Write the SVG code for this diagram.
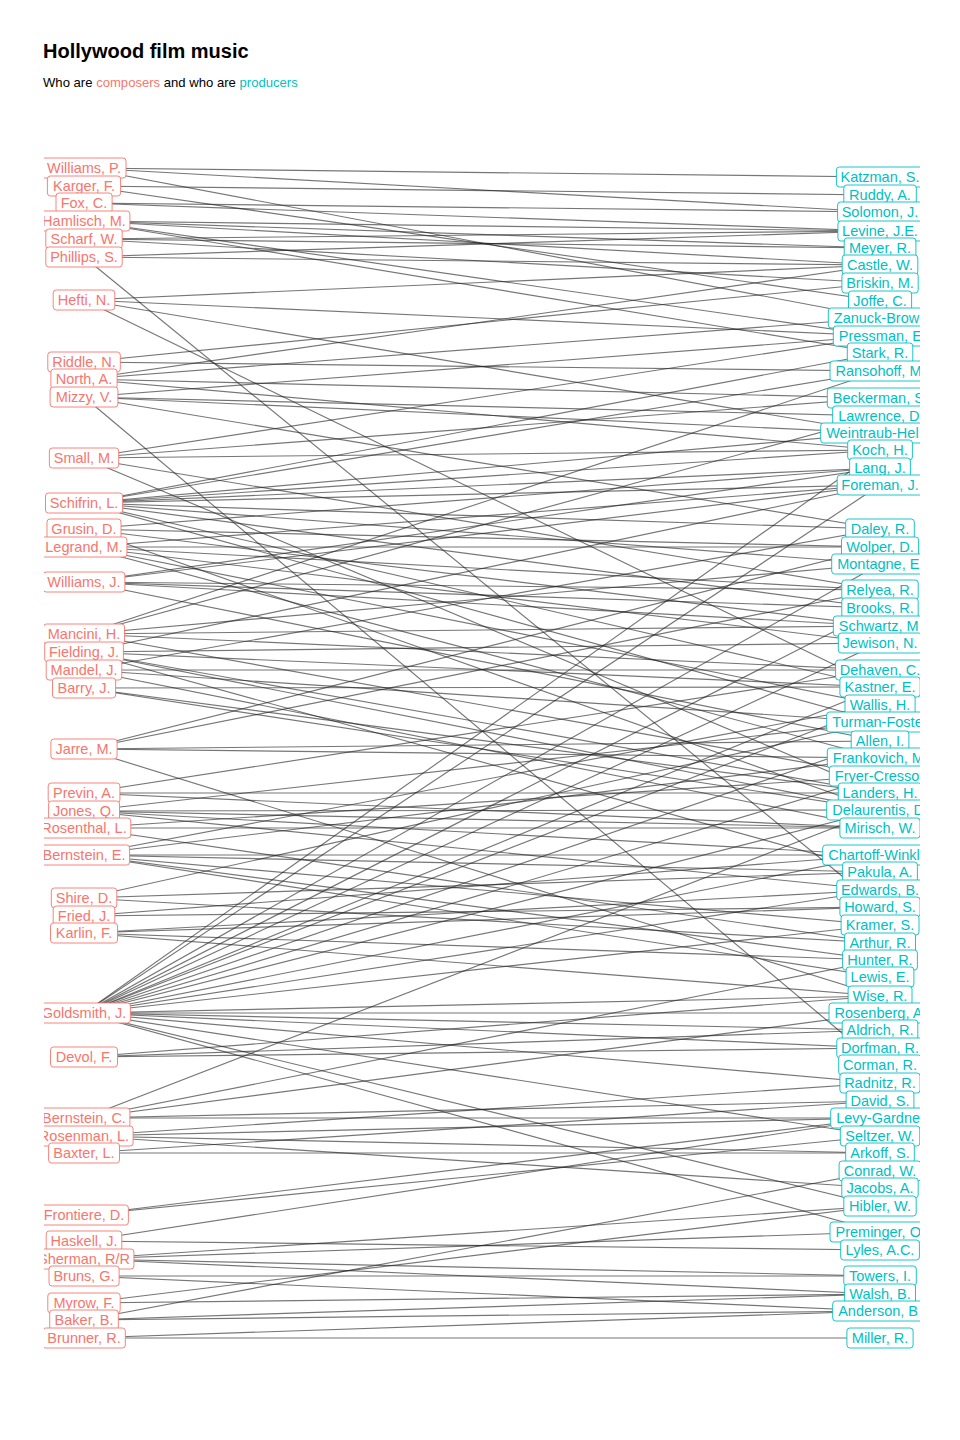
<svg xmlns="http://www.w3.org/2000/svg" width="960" height="1440" viewBox="0 0 960 1440">
<defs>
<clipPath id="panel"><rect x="44" y="100" width="876" height="1280"/></clipPath>
<style>
.e{stroke:#222;stroke-opacity:0.62;stroke-width:1.15;fill:none}
.c rect{fill:#fff;stroke:#F8766D;stroke-width:0.9}
.c text{fill:#F8766D;font-family:"Liberation Sans",Arial,sans-serif;font-size:14.5px;text-anchor:middle}
.p rect{fill:#fff;stroke:#00BFC4;stroke-width:0.9}
.p text{fill:#00BFC4;font-family:"Liberation Sans",Arial,sans-serif;font-size:14.5px;text-anchor:middle}
.p text.s{text-anchor:start}
.t{font-family:"Liberation Sans",Arial,sans-serif}
</style>
</defs>
<rect width="960" height="1440" fill="#fff"/>
<text class="t" x="43" y="58" font-size="20" font-weight="bold" fill="#000">Hollywood film music</text>
<text class="t" x="43" y="87" font-size="13.1" fill="#000">Who are <tspan fill="#F8766D">composers</tspan> and who are <tspan fill="#00BFC4">producers</tspan></text>
<g id="connectors">
<path class="e" d="M84 168L880 177"/><path class="e" d="M84 168L880 212"/><path class="e" d="M84 168L880 318"/>
<path class="e" d="M84 186L880 195"/><path class="e" d="M84 186L880 301"/>
<path class="e" d="M84 203L880 212"/><path class="e" d="M84 203L880 231"/>
<path class="e" d="M84 221L880 231"/><path class="e" d="M84 221L880 248"/><path class="e" d="M84 221L880 265"/><path class="e" d="M84 221L880 336"/><path class="e" d="M84 221L880 353"/>
<path class="e" d="M84 239L880 231"/><path class="e" d="M84 239L880 248"/><path class="e" d="M84 239L880 283"/>
<path class="e" d="M84 257L880 231"/><path class="e" d="M84 257L880 265"/><path class="e" d="M84 257L880 907"/>
<path class="e" d="M84 300L880 265"/><path class="e" d="M84 300L880 336"/><path class="e" d="M84 300L880 433"/><path class="e" d="M84 300L880 687"/>
<path class="e" d="M84 362L880 283"/><path class="e" d="M84 362L880 371"/>
<path class="e" d="M84 379L880 265"/><path class="e" d="M84 379L880 318"/><path class="e" d="M84 379L880 398"/><path class="e" d="M84 379L880 450"/>
<path class="e" d="M84 397L880 336"/><path class="e" d="M84 397L880 416"/><path class="e" d="M84 397L880 433"/><path class="e" d="M84 397L880 529"/><path class="e" d="M84 397L880 1065"/>
<path class="e" d="M84 458L880 336"/><path class="e" d="M84 458L880 398"/><path class="e" d="M84 458L880 450"/><path class="e" d="M84 458L880 590"/><path class="e" d="M84 458L880 793"/>
<path class="e" d="M84 503L880 353"/><path class="e" d="M84 503L880 371"/><path class="e" d="M84 503L880 433"/><path class="e" d="M84 503L880 450"/><path class="e" d="M84 503L880 468"/><path class="e" d="M84 503L880 485"/><path class="e" d="M84 503L880 529"/><path class="e" d="M84 503L880 564"/><path class="e" d="M84 503L880 608"/><path class="e" d="M84 503L880 687"/><path class="e" d="M84 503L880 722"/>
<path class="e" d="M84 529L880 468"/><path class="e" d="M84 529L880 547"/><path class="e" d="M84 529L880 626"/><path class="e" d="M84 529L880 810"/>
<path class="e" d="M84 547L880 485"/><path class="e" d="M84 547L880 547"/><path class="e" d="M84 547L880 590"/><path class="e" d="M84 547L880 643"/><path class="e" d="M84 547L880 705"/><path class="e" d="M84 547L880 758"/>
<path class="e" d="M84 582L880 468"/><path class="e" d="M84 582L880 485"/><path class="e" d="M84 582L880 590"/><path class="e" d="M84 582L880 608"/><path class="e" d="M84 582L880 626"/><path class="e" d="M84 582L880 741"/>
<path class="e" d="M84 634L880 371"/><path class="e" d="M84 634L880 416"/><path class="e" d="M84 634L880 564"/><path class="e" d="M84 634L880 626"/><path class="e" d="M84 634L880 670"/><path class="e" d="M84 634L880 776"/>
<path class="e" d="M84 652L880 485"/><path class="e" d="M84 652L880 643"/><path class="e" d="M84 652L880 687"/><path class="e" d="M84 652L880 793"/><path class="e" d="M84 652L880 810"/><path class="e" d="M84 652L880 872"/>
<path class="e" d="M84 670L880 529"/><path class="e" d="M84 670L880 670"/><path class="e" d="M84 670L880 722"/><path class="e" d="M84 670L880 828"/>
<path class="e" d="M84 688L880 687"/><path class="e" d="M84 688L880 793"/><path class="e" d="M84 688L880 810"/>
<path class="e" d="M84 749L880 547"/><path class="e" d="M84 749L880 590"/><path class="e" d="M84 749L880 741"/><path class="e" d="M84 749L880 758"/><path class="e" d="M84 749L880 996"/>
<path class="e" d="M84 793L880 670"/><path class="e" d="M84 793L880 793"/><path class="e" d="M84 793L880 828"/>
<path class="e" d="M84 811L880 722"/><path class="e" d="M84 811L880 810"/><path class="e" d="M84 811L880 828"/><path class="e" d="M84 811L880 855"/><path class="e" d="M84 811L880 890"/>
<path class="e" d="M84 828L880 776"/><path class="e" d="M84 828L880 828"/><path class="e" d="M84 828L880 943"/>
<path class="e" d="M84 855L880 705"/><path class="e" d="M84 855L880 758"/><path class="e" d="M84 855L880 855"/><path class="e" d="M84 855L880 872"/><path class="e" d="M84 855L880 925"/><path class="e" d="M84 855L880 960"/><path class="e" d="M84 855L880 977"/>
<path class="e" d="M84 898L880 722"/><path class="e" d="M84 898L880 872"/><path class="e" d="M84 898L880 943"/>
<path class="e" d="M84 916L880 855"/><path class="e" d="M84 916L880 907"/>
<path class="e" d="M84 933L880 890"/><path class="e" d="M84 933L880 907"/><path class="e" d="M84 933L880 960"/><path class="e" d="M84 933L880 996"/>
<path class="e" d="M84 1013L880 450"/><path class="e" d="M84 1013L880 485"/><path class="e" d="M84 1013L880 564"/><path class="e" d="M84 1013L880 608"/><path class="e" d="M84 1013L880 643"/><path class="e" d="M84 1013L880 687"/><path class="e" d="M84 1013L880 705"/><path class="e" d="M84 1013L880 741"/><path class="e" d="M84 1013L880 776"/><path class="e" d="M84 1013L880 810"/><path class="e" d="M84 1013L880 855"/><path class="e" d="M84 1013L880 890"/><path class="e" d="M84 1013L880 925"/><path class="e" d="M84 1013L880 996"/><path class="e" d="M84 1013L880 1013"/><path class="e" d="M84 1013L880 1030"/><path class="e" d="M84 1013L880 1048"/><path class="e" d="M84 1013L880 1083"/><path class="e" d="M84 1013L880 1136"/><path class="e" d="M84 1013L880 1206"/><path class="e" d="M84 1013L880 1232"/>
<path class="e" d="M84 1057L880 996"/><path class="e" d="M84 1057L880 1030"/><path class="e" d="M84 1057L880 1048"/>
<path class="e" d="M84 1118L880 810"/><path class="e" d="M84 1118L880 960"/><path class="e" d="M84 1118L880 1013"/><path class="e" d="M84 1118L880 1101"/><path class="e" d="M84 1118L880 1118"/>
<path class="e" d="M84 1136L880 1083"/><path class="e" d="M84 1136L880 1118"/><path class="e" d="M84 1136L880 1153"/><path class="e" d="M84 1136L880 1188"/>
<path class="e" d="M84 1153L880 1101"/><path class="e" d="M84 1153L880 1153"/>
<path class="e" d="M84 1215L880 1118"/><path class="e" d="M84 1215L880 1136"/>
<path class="e" d="M84 1241L880 1118"/><path class="e" d="M84 1241L880 1250"/>
<path class="e" d="M84 1259L880 1206"/><path class="e" d="M84 1259L880 1232"/><path class="e" d="M84 1259L880 1276"/><path class="e" d="M84 1259L880 1294"/>
<path class="e" d="M84 1276L880 1276"/><path class="e" d="M84 1276L880 1311"/>
<path class="e" d="M84 1303L880 1206"/><path class="e" d="M84 1303L880 1294"/>
<path class="e" d="M84 1320L880 1171"/><path class="e" d="M84 1320L880 1294"/><path class="e" d="M84 1320L880 1311"/>
<path class="e" d="M84 1338L880 1311"/><path class="e" d="M84 1338L880 1338"/>
</g>
<g clip-path="url(#panel)">
<g class="c">
<g id="williams-p"><rect x="41.9" y="158" width="84.1" height="20" rx="3"/><text x="84" y="173">Williams, P.</text></g>
<g id="karger-f"><rect x="47.4" y="176" width="73.2" height="20" rx="3"/><text x="84" y="191">Karger, F.</text></g>
<g id="fox-c"><rect x="56" y="193" width="56.1" height="20" rx="3"/><text x="84" y="208">Fox, C.</text></g>
<g id="hamlisch-m"><rect x="38" y="211" width="91.9" height="20" rx="3"/><text x="84" y="226">Hamlisch, M.</text></g>
<g id="scharf-w"><rect x="45.8" y="229" width="76.4" height="20" rx="3"/><text x="84" y="244">Scharf, W.</text></g>
<g id="phillips-s"><rect x="45.8" y="247" width="76.4" height="20" rx="3"/><text x="84" y="262">Phillips, S.</text></g>
<g id="hefti-n"><rect x="53.2" y="290" width="61.6" height="20" rx="3"/><text x="84" y="305">Hefti, N.</text></g>
<g id="riddle-n"><rect x="47.8" y="352" width="72.5" height="20" rx="3"/><text x="84" y="367">Riddle, N.</text></g>
<g id="north-a"><rect x="50.9" y="369" width="66.2" height="20" rx="3"/><text x="84" y="384">North, A.</text></g>
<g id="mizzy-v"><rect x="50.1" y="387" width="67.8" height="20" rx="3"/><text x="84" y="402">Mizzy, V.</text></g>
<g id="small-m"><rect x="49.4" y="448" width="69.3" height="20" rx="3"/><text x="84" y="463">Small, M.</text></g>
<g id="schifrin-l"><rect x="45.5" y="493" width="77.1" height="20" rx="3"/><text x="84" y="508">Schifrin, L.</text></g>
<g id="grusin-d"><rect x="47" y="519" width="74" height="20" rx="3"/><text x="84" y="534">Grusin, D.</text></g>
<g id="legrand-m"><rect x="41.2" y="537" width="85.7" height="20" rx="3"/><text x="84" y="552">Legrand, M.</text></g>
<g id="williams-j"><rect x="43.1" y="572" width="81.8" height="20" rx="3"/><text x="84" y="587">Williams, J.</text></g>
<g id="mancini-h"><rect x="43.5" y="624" width="81" height="20" rx="3"/><text x="84" y="639">Mancini, H.</text></g>
<g id="fielding-j"><rect x="44.7" y="642" width="78.7" height="20" rx="3"/><text x="84" y="657">Fielding, J.</text></g>
<g id="mandel-j"><rect x="46.2" y="660" width="75.6" height="20" rx="3"/><text x="84" y="675">Mandel, J.</text></g>
<g id="barry-j"><rect x="52.5" y="678" width="63.1" height="20" rx="3"/><text x="84" y="693">Barry, J.</text></g>
<g id="jarre-m"><rect x="50.9" y="739" width="66.2" height="20" rx="3"/><text x="84" y="754">Jarre, M.</text></g>
<g id="previn-a"><rect x="48.2" y="783" width="71.7" height="20" rx="3"/><text x="84" y="798">Previn, A.</text></g>
<g id="jones-q"><rect x="48.6" y="801" width="70.9" height="20" rx="3"/><text x="84" y="816">Jones, Q.</text></g>
<g id="rosenthal-l"><rect x="37.3" y="818" width="93.5" height="20" rx="3"/><text x="84" y="833">Rosenthal, L.</text></g>
<g id="bernstein-e"><rect x="38.4" y="845" width="91.2" height="20" rx="3"/><text x="84" y="860">Bernstein, E.</text></g>
<g id="shire-d"><rect x="51.3" y="888" width="65.5" height="20" rx="3"/><text x="84" y="903">Shire, D.</text></g>
<g id="fried-j"><rect x="53.2" y="906" width="61.6" height="20" rx="3"/><text x="84" y="921">Fried, J.</text></g>
<g id="karlin-f"><rect x="50.5" y="923" width="67" height="20" rx="3"/><text x="84" y="938">Karlin, F.</text></g>
<g id="goldsmith-j"><rect x="37.7" y="1003" width="92.7" height="20" rx="3"/><text x="84" y="1018">Goldsmith, J.</text></g>
<g id="devol-f"><rect x="50.5" y="1047" width="67" height="20" rx="3"/><text x="84" y="1062">Devol, F.</text></g>
<g id="bernstein-c"><rect x="38" y="1108" width="91.9" height="20" rx="3"/><text x="84" y="1123">Bernstein, C.</text></g>
<g id="rosenman-l"><rect x="34.9" y="1126" width="98.2" height="20" rx="3"/><text x="84" y="1141">Rosenman, L.</text></g>
<g id="baxter-l"><rect x="48.6" y="1143" width="70.9" height="20" rx="3"/><text x="84" y="1158">Baxter, L.</text></g>
<g id="frontiere-d"><rect x="39.6" y="1205" width="88.8" height="20" rx="3"/><text x="84" y="1220">Frontiere, D.</text></g>
<g id="haskell-j"><rect x="46.2" y="1231" width="75.6" height="20" rx="3"/><text x="84" y="1246">Haskell, J.</text></g>
<g id="sherman-rr"><rect x="34.2" y="1249" width="99.7" height="20" rx="3"/><text x="84" y="1264">Sherman, R/R</text></g>
<g id="bruns-g"><rect x="49" y="1266" width="70.1" height="20" rx="3"/><text x="84" y="1281">Bruns, G.</text></g>
<g id="myrow-f"><rect x="47.8" y="1293" width="72.4" height="20" rx="3"/><text x="84" y="1308">Myrow, F.</text></g>
<g id="baker-b"><rect x="49.7" y="1310" width="68.6" height="20" rx="3"/><text x="84" y="1325">Baker, B.</text></g>
<g id="brunner-r"><rect x="42.7" y="1328" width="82.6" height="20" rx="3"/><text x="84" y="1343">Brunner, R.</text></g>
</g>
<g class="p">
<g id="katzman-s"><rect x="836.4" y="167" width="87.3" height="20" rx="3"/><text x="880" y="182">Katzman, S.</text></g>
<g id="ruddy-a"><rect x="843.8" y="185" width="72.5" height="20" rx="3"/><text x="880" y="200">Ruddy, A.</text></g>
<g id="solomon-j"><rect x="837.6" y="202" width="84.9" height="20" rx="3"/><text x="880" y="217">Solomon, J.</text></g>
<g id="levine-je"><rect x="837.9" y="221" width="84.2" height="20" rx="3"/><text x="880" y="236">Levine, J.E.</text></g>
<g id="meyer-r"><rect x="844.2" y="238" width="71.7" height="20" rx="3"/><text x="880" y="253">Meyer, R.</text></g>
<g id="castle-w"><rect x="842.2" y="255" width="75.6" height="20" rx="3"/><text x="880" y="270">Castle, W.</text></g>
<g id="briskin-m"><rect x="841.9" y="273" width="76.3" height="20" rx="3"/><text x="880" y="288">Briskin, M.</text></g>
<g id="joffe-c"><rect x="848.5" y="291" width="63.1" height="20" rx="3"/><text x="880" y="306">Joffe, C.</text></g>
<g id="zanuck-brown"><rect x="828.3" y="308" width="110" height="20" rx="3"/><text class="s" x="833.8" y="323">Zanuck-Brow</text></g>
<g id="pressman-e"><rect x="833.3" y="326" width="110" height="20" rx="3"/><text class="s" x="838.8" y="341">Pressman, E</text></g>
<g id="stark-r"><rect x="847.3" y="343" width="65.5" height="20" rx="3"/><text x="880" y="358">Stark, R.</text></g>
<g id="ransohoff-m"><rect x="830" y="361" width="110" height="20" rx="3"/><text class="s" x="835.5" y="376">Ransohoff, M</text></g>
<g id="beckerman-s"><rect x="827.3" y="388" width="110" height="20" rx="3"/><text class="s" x="832.8" y="403">Beckerman, S</text></g>
<g id="lawrence-d"><rect x="832.7" y="406" width="110" height="20" rx="3"/><text class="s" x="838.2" y="421">Lawrence, D</text></g>
<g id="weintraub-heller"><rect x="820.7" y="423" width="110" height="20" rx="3"/><text class="s" x="826.2" y="438">Weintraub-Hel</text></g>
<g id="koch-h"><rect x="847.7" y="440" width="64.7" height="20" rx="3"/><text x="880" y="455">Koch, H.</text></g>
<g id="lang-j"><rect x="849.6" y="458" width="60.8" height="20" rx="3"/><text x="880" y="473">Lang, J.</text></g>
<g id="foreman-j"><rect x="837.2" y="475" width="85.7" height="20" rx="3"/><text x="880" y="490">Foreman, J.</text></g>
<g id="daley-r"><rect x="845.7" y="519" width="68.6" height="20" rx="3"/><text x="880" y="534">Daley, R.</text></g>
<g id="wolper-d"><rect x="841.5" y="537" width="77.1" height="20" rx="3"/><text x="880" y="552">Wolper, D.</text></g>
<g id="montagne-e"><rect x="831.7" y="554" width="110" height="20" rx="3"/><text class="s" x="837.2" y="569">Montagne, E</text></g>
<g id="relyea-r"><rect x="841.8" y="580" width="76.4" height="20" rx="3"/><text x="880" y="595">Relyea, R.</text></g>
<g id="brooks-r"><rect x="841.8" y="598" width="76.4" height="20" rx="3"/><text x="880" y="613">Brooks, R.</text></g>
<g id="schwartz-m"><rect x="833.3" y="616" width="110" height="20" rx="3"/><text class="s" x="838.8" y="631">Schwartz, M</text></g>
<g id="jewison-n"><rect x="838.3" y="633" width="83.4" height="20" rx="3"/><text x="880" y="648">Jewison, N.</text></g>
<g id="dehaven-c"><rect x="835.6" y="660" width="88.8" height="20" rx="3"/><text x="880" y="675">Dehaven, C.</text></g>
<g id="kastner-e"><rect x="839.9" y="677" width="80.3" height="20" rx="3"/><text x="880" y="692">Kastner, E.</text></g>
<g id="wallis-h"><rect x="845" y="695" width="70.1" height="20" rx="3"/><text x="880" y="710">Wallis, H.</text></g>
<g id="turman-foster"><rect x="826.7" y="712" width="110" height="20" rx="3"/><text class="s" x="832.2" y="727">Turman-Foste</text></g>
<g id="allen-i"><rect x="851.2" y="731" width="57.7" height="20" rx="3"/><text x="880" y="746">Allen, I.</text></g>
<g id="frankovich-m"><rect x="827.3" y="748" width="110" height="20" rx="3"/><text class="s" x="832.8" y="763">Frankovich, M</text></g>
<g id="fryer-cresson"><rect x="829.3" y="766" width="110" height="20" rx="3"/><text class="s" x="834.8" y="781">Fryer-Cresso</text></g>
<g id="landers-h"><rect x="838.3" y="783" width="83.4" height="20" rx="3"/><text x="880" y="798">Landers, H.</text></g>
<g id="delaurentis-d"><rect x="826.7" y="800" width="110" height="20" rx="3"/><text class="s" x="832.2" y="815">Delaurentis, D</text></g>
<g id="mirisch-w"><rect x="839.9" y="818" width="80.2" height="20" rx="3"/><text x="880" y="833">Mirisch, W.</text></g>
<g id="chartoff-winkler"><rect x="822.7" y="845" width="110" height="20" rx="3"/><text class="s" x="828.2" y="860">Chartoff-Winkl</text></g>
<g id="pakula-a"><rect x="842.6" y="862" width="74.8" height="20" rx="3"/><text x="880" y="877">Pakula, A.</text></g>
<g id="edwards-b"><rect x="836.8" y="880" width="86.5" height="20" rx="3"/><text x="880" y="895">Edwards, B.</text></g>
<g id="howard-s"><rect x="839.9" y="897" width="80.2" height="20" rx="3"/><text x="880" y="912">Howard, S.</text></g>
<g id="kramer-s"><rect x="841.1" y="915" width="77.9" height="20" rx="3"/><text x="880" y="930">Kramer, S.</text></g>
<g id="arthur-r"><rect x="844.6" y="933" width="70.9" height="20" rx="3"/><text x="880" y="948">Arthur, R.</text></g>
<g id="hunter-r"><rect x="842.6" y="950" width="74.8" height="20" rx="3"/><text x="880" y="965">Hunter, R.</text></g>
<g id="lewis-e"><rect x="846.1" y="967" width="67.8" height="20" rx="3"/><text x="880" y="982">Lewis, E.</text></g>
<g id="wise-r"><rect x="848.1" y="986" width="63.9" height="20" rx="3"/><text x="880" y="1001">Wise, R.</text></g>
<g id="rosenberg-a"><rect x="829" y="1003" width="110" height="20" rx="3"/><text class="s" x="834.5" y="1018">Rosenberg, A</text></g>
<g id="aldrich-r"><rect x="842.2" y="1020" width="75.6" height="20" rx="3"/><text x="880" y="1035">Aldrich, R.</text></g>
<g id="dorfman-r"><rect x="836.8" y="1038" width="86.5" height="20" rx="3"/><text x="880" y="1053">Dorfman, R.</text></g>
<g id="corman-r"><rect x="838.7" y="1055" width="82.6" height="20" rx="3"/><text x="880" y="1070">Corman, R.</text></g>
<g id="radnitz-r"><rect x="839.9" y="1073" width="80.2" height="20" rx="3"/><text x="880" y="1088">Radnitz, R.</text></g>
<g id="david-s"><rect x="846.1" y="1091" width="67.8" height="20" rx="3"/><text x="880" y="1106">David, S.</text></g>
<g id="levy-gardner"><rect x="830.7" y="1108" width="110" height="20" rx="3"/><text class="s" x="836.2" y="1123">Levy-Gardne</text></g>
<g id="seltzer-w"><rect x="840.3" y="1126" width="79.5" height="20" rx="3"/><text x="880" y="1141">Seltzer, W.</text></g>
<g id="arkoff-s"><rect x="845.7" y="1143" width="68.6" height="20" rx="3"/><text x="880" y="1158">Arkoff, S.</text></g>
<g id="conrad-w"><rect x="839.1" y="1161" width="81.8" height="20" rx="3"/><text x="880" y="1176">Conrad, W.</text></g>
<g id="jacobs-a"><rect x="841.8" y="1178" width="76.4" height="20" rx="3"/><text x="880" y="1193">Jacobs, A.</text></g>
<g id="hibler-w"><rect x="843.8" y="1196" width="72.4" height="20" rx="3"/><text x="880" y="1211">Hibler, W.</text></g>
<g id="preminger-o"><rect x="830" y="1222" width="110" height="20" rx="3"/><text class="s" x="835.5" y="1237">Preminger, O</text></g>
<g id="lyles-ac"><rect x="840.7" y="1240" width="78.7" height="20" rx="3"/><text x="880" y="1255">Lyles, A.C.</text></g>
<g id="towers-i"><rect x="843.8" y="1266" width="72.5" height="20" rx="3"/><text x="880" y="1281">Towers, I.</text></g>
<g id="walsh-b"><rect x="844.6" y="1284" width="70.9" height="20" rx="3"/><text x="880" y="1299">Walsh, B.</text></g>
<g id="anderson-b"><rect x="832.7" y="1301" width="110" height="20" rx="3"/><text class="s" x="838.2" y="1316">Anderson, B</text></g>
<g id="miller-r"><rect x="846.9" y="1328" width="66.2" height="20" rx="3"/><text x="880" y="1343">Miller, R.</text></g>
</g>
</g>
</svg>
